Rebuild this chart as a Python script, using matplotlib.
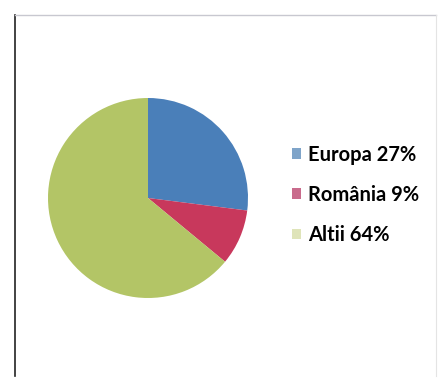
import matplotlib.pyplot as plt
from matplotlib.patches import Patch
from matplotlib.lines import Line2D

# date
labels = ['Europa 27%', 'România 9%', 'Altii 64%']
values = [27, 9, 64]
colors = ['#4a7fb9', '#c8385c', '#b3c566']
legend_colors = ['#7fa4c9', '#c96b8c', '#dfe4b9']

fig = plt.figure(figsize=(4.4, 3.82), dpi=100)
fig.patch.set_facecolor('white')

# chenarul scanat
fig.add_artist(Line2D([0.034, 0.034], [0.015, 0.962], color='#222222', lw=1.2))
fig.add_artist(Line2D([0.034, 0.99], [0.962, 0.962], color='#c8c8d0', lw=1.0))
fig.add_artist(Line2D([0.99, 0.99], [0.015, 0.962], color='#e4e4e4', lw=0.8))

ax = fig.add_axes([48 / 440, 1 - 298 / 382, 200 / 440, 200 / 382])
ax.pie(values, colors=colors, startangle=90, counterclock=False,
       wedgeprops=dict(linewidth=0))
ax.set_xlim(-1, 1)
ax.set_ylim(-1, 1)
ax.set_aspect('equal')
ax.axis('off')

handles = [Patch(facecolor=c, edgecolor='none') for c in legend_colors]
fig.legend(handles, labels, loc='center left',
           bbox_to_anchor=(274 / 440, 1 - 195 / 382),
           frameon=False, handlelength=0.45, handleheight=0.45,
           handletextpad=0.35, labelspacing=1.0,
           prop=dict(family='Lato', weight='bold', size=14.5))

fig.savefig('out.png', dpi=100)
